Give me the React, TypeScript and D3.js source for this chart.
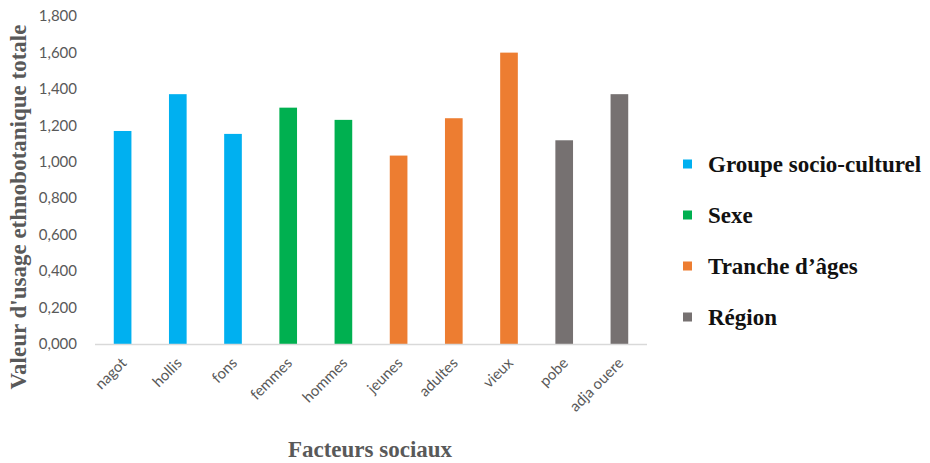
import * as d3 from 'd3';
import React, { useRef, useEffect } from 'react';

const categories = ['nagot', 'hollis', 'fons', 'femmes', 'hommes', 'jeunes', 'adultes', 'vieux', 'pobe', 'adja ouere'];
const values = [1.169, 1.371, 1.153, 1.297, 1.230, 1.034, 1.239, 1.599, 1.118, 1.371];
const groups = ['Groupe socio-culturel', 'Groupe socio-culturel', 'Groupe socio-culturel', 'Sexe', 'Sexe',
  'Tranche d\u2019âges', 'Tranche d\u2019âges', 'Tranche d\u2019âges', 'Région', 'Région'];
const legendLabels = ['Groupe socio-culturel', 'Sexe', 'Tranche d\u2019âges', 'Région'];
const legendColors = ['#00b0f0', '#00b050', '#ed7d31', '#767171'];
const yTicks = [0, 0.2, 0.4, 0.6, 0.8, 1.0, 1.2, 1.4, 1.6, 1.8];

export default function App() {
  const ref = useRef<SVGSVGElement>(null);
  const width = 930;
  const height = 463;

  useEffect(() => {
    const svg = d3.select(ref.current);
    svg.selectAll('*').remove();

    const x = d3.scaleBand().domain(categories).range([95, 647]).paddingInner(0.68).paddingOuter(0.34);
    const y = d3.scaleLinear().domain([0, 1.8]).range([344, 16]);
    const color = d3.scaleOrdinal<string>().domain(legendLabels).range(legendColors);
    const fmt = (d: number) => d3.format('.3f')(d).replace('.', ',');

    // y axis labels (no line)
    svg.append('g').selectAll('text').data(yTicks).enter().append('text')
      .attr('x', 77)
      .attr('y', d => y(d))
      .attr('dy', '0.35em')
      .attr('text-anchor', 'end')
      .attr('font-family', 'Lato, sans-serif')
      .attr('font-size', 15)
      .attr('fill', '#595959')
      .text(d => fmt(d));

    // bars
    svg.append('g').selectAll('rect').data(categories).enter().append('rect')
      .attr('x', d => x(d)!)
      .attr('y', (d, i) => y(values[i]))
      .attr('width', x.bandwidth())
      .attr('height', (d, i) => y(0) - y(values[i]))
      .attr('fill', (d, i) => color(groups[i]));

    // x axis line
    svg.append('line')
      .attr('x1', 95).attr('x2', 647)
      .attr('y1', y(0) + 0.5).attr('y2', y(0) + 0.5)
      .attr('stroke', '#d9d9d9').attr('stroke-width', 1.5);

    // x labels
    svg.append('g').selectAll('text').data(categories).enter().append('text')
      .attr('transform', d => `translate(${x(d)! + x.bandwidth() / 2 + 5},${y(0) + 20}) rotate(-45)`)
      .attr('text-anchor', 'end')
      .attr('font-family', 'Lato, sans-serif')
      .attr('font-size', 15)
      .attr('fill', '#595959')
      .text(d => d);

    // axis titles
    svg.append('text')
      .attr('transform', `translate(26,207) rotate(-90)`)
      .attr('text-anchor', 'middle')
      .attr('font-family', '"Liberation Serif", serif')
      .attr('font-weight', 'bold')
      .attr('font-size', 23)
      .attr('fill', '#595959')
      .text("Valeur d'usage ethnobotanique totale");

    svg.append('text')
      .attr('x', 370)
      .attr('y', 457)
      .attr('text-anchor', 'middle')
      .attr('font-family', '"Liberation Serif", serif')
      .attr('font-weight', 'bold')
      .attr('font-size', 23)
      .attr('fill', '#595959')
      .text('Facteurs sociaux');

    // legend
    const leg = svg.append('g').selectAll('g').data(legendLabels).enter().append('g')
      .attr('transform', (d, i) => `translate(683,${164 + i * 51})`);
    leg.append('rect')
      .attr('x', 0).attr('y', -4.5)
      .attr('width', 9).attr('height', 9)
      .attr('fill', d => color(d));
    leg.append('text')
      .attr('x', 25)
      .attr('dy', '0.35em')
      .attr('font-family', '"Liberation Serif", serif')
      .attr('font-weight', 'bold')
      .attr('font-size', 23)
      .attr('fill', '#111')
      .text(d => d);
  }, []);

  return (
    <svg ref={ref} width={width} height={height}
      style={{ position: 'absolute', left: 0, top: 0, background: '#fff' }} />
  );
}
